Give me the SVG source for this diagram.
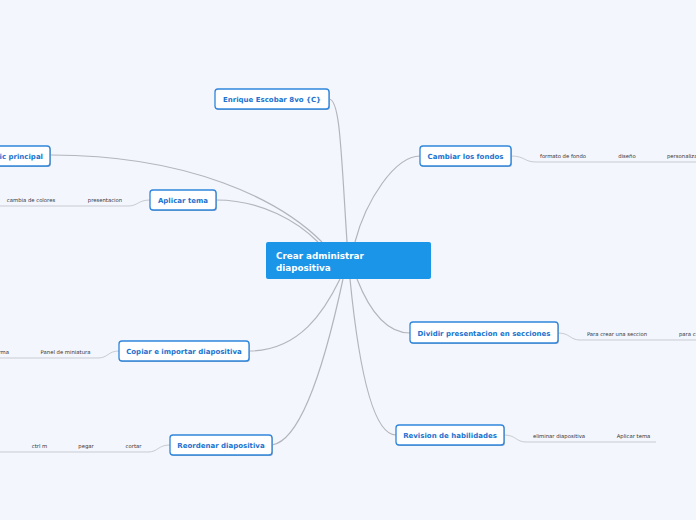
<svg xmlns="http://www.w3.org/2000/svg" width="696" height="520" viewBox="0 0 696 520">
<style>
.bg{fill:#f3f6fd}
.n{fill:#ffffff;stroke:#2f86dc;stroke-width:1.3}
.sh{fill:#a9b3c2}
.t{font-family:"DejaVu Sans",Verdana,sans-serif;font-weight:bold;font-size:7px;fill:#1a73d0}
.c{fill:none;stroke:#b3b5bd;stroke-width:1.2}
.u{fill:none;stroke:#c9cbd2;stroke-width:1}
.l{font-family:"DejaVu Sans",Verdana,sans-serif;font-size:5.3px;fill:#333}
.ct{font-family:"DejaVu Sans",Verdana,sans-serif;font-weight:bold;font-size:8.8px;fill:#ffffff}
</style>
<rect class="bg" x="0" y="0" width="696" height="520"/>
<g id="connectors">
<path class="c" d="M51,155 C190,155 280,200 322,242"/>
<path class="c" d="M216,200 C262,200 298,222 318,242"/>
<path class="c" d="M329,99 C340,99 341,150 347,242"/>
<path class="c" d="M420,156 C395,156 366,200 355,242"/>
<path class="c" d="M249,351 C300,351 325,310 340,279"/>
<path class="c" d="M272,445 C305,440 330,340 343,279"/>
<path class="c" d="M396,435 C372,435 358,360 350,279"/>
<path class="c" d="M410,333 C388,333 370,312 357,279"/>
<path class="u" d="M511,156 C525,156 524,162 536,162 L696,162"/>
<path class="u" d="M558,333 C570,333 570,340 580,340 L696,340"/>
<path class="u" d="M504,435 C516,435 516,442 526,442 L656,442"/>
<path class="u" d="M150,200 C138,200 138,206 128,206 L0,206"/>
<path class="u" d="M119,351 C108,351 108,358 98,358 L0,358"/>
<path class="u" d="M170,445 C158,445 158,452 148,452 L0,452"/>
</g>
<g id="center">
<rect x="266" y="242" width="165" height="37" rx="2" fill="#1a95e7"/>
<text class="ct" x="276" y="259">Crear administrar</text>
<text class="ct" x="276" y="271">diapositiva</text>
</g>
<g id="n-enrique">
<rect class="sh" x="216" y="90" width="114" height="20" rx="3"/>
<rect class="n" x="215" y="89" width="114" height="20" rx="3"/>
<text class="t" x="272" y="102" text-anchor="middle">Enrique Escobar 8vo {C}</text>
</g>
<g id="n-ic">
<rect class="sh" x="-40" y="147" width="91" height="20" rx="3"/>
<rect class="n" x="-41" y="146" width="91" height="20" rx="3"/>
<text class="t" x="43" y="159" text-anchor="end">ic principal</text>
</g>
<g id="n-aplicar">
<rect class="sh" x="151" y="191" width="66" height="20" rx="3"/>
<rect class="n" x="150" y="190" width="66" height="20" rx="3"/>
<text class="t" x="183" y="203" text-anchor="middle">Aplicar tema</text>
<text class="l" x="31" y="202" text-anchor="middle">cambia de colores</text>
<text class="l" x="105" y="202" text-anchor="middle">presentacion</text>
</g>
<g id="n-cambiar">
<rect class="sh" x="421" y="147" width="91" height="20" rx="3"/>
<rect class="n" x="420" y="146" width="91" height="20" rx="3"/>
<text class="t" x="465.5" y="159" text-anchor="middle">Cambiar los fondos</text>
<text class="l" x="563" y="158" text-anchor="middle">formato de fondo</text>
<text class="l" x="627" y="158" text-anchor="middle">diseño</text>
<text class="l" x="667" y="158">personalizar</text>
</g>
<g id="n-dividir">
<rect class="sh" x="411" y="323" width="148" height="21" rx="3"/>
<rect class="n" x="410" y="322" width="148" height="21" rx="3"/>
<text class="t" x="484" y="336" text-anchor="middle">Dividir presentacion en secciones</text>
<text class="l" x="617" y="336" text-anchor="middle">Para crear una seccion</text>
<text class="l" x="679" y="336">para crear</text>
</g>
<g id="n-copiar">
<rect class="sh" x="120" y="342" width="130" height="20" rx="3"/>
<rect class="n" x="119" y="341" width="130" height="20" rx="3"/>
<text class="t" x="184" y="354" text-anchor="middle">Copiar e importar diapositiva</text>
<text class="l" x="9" y="354" text-anchor="end">rma</text>
<text class="l" x="65.5" y="354" text-anchor="middle">Panel de miniatura</text>
</g>
<g id="n-reordenar">
<rect class="sh" x="171" y="436" width="102" height="20" rx="3"/>
<rect class="n" x="170" y="435" width="102" height="20" rx="3"/>
<text class="t" x="221" y="448" text-anchor="middle">Reordenar diapositiva</text>
<text class="l" x="39.5" y="448" text-anchor="middle">ctrl m</text>
<text class="l" x="86" y="448" text-anchor="middle">pegar</text>
<text class="l" x="133.5" y="448" text-anchor="middle">cortar</text>
</g>
<g id="n-revision">
<rect class="sh" x="397" y="426" width="108" height="20" rx="3"/>
<rect class="n" x="396" y="425" width="108" height="20" rx="3"/>
<text class="t" x="450" y="438" text-anchor="middle">Revision de habilidades</text>
<text class="l" x="559" y="438" text-anchor="middle">eliminar diapositiva</text>
<text class="l" x="633.5" y="438" text-anchor="middle">Aplicar tema</text>
</g>
</svg>
